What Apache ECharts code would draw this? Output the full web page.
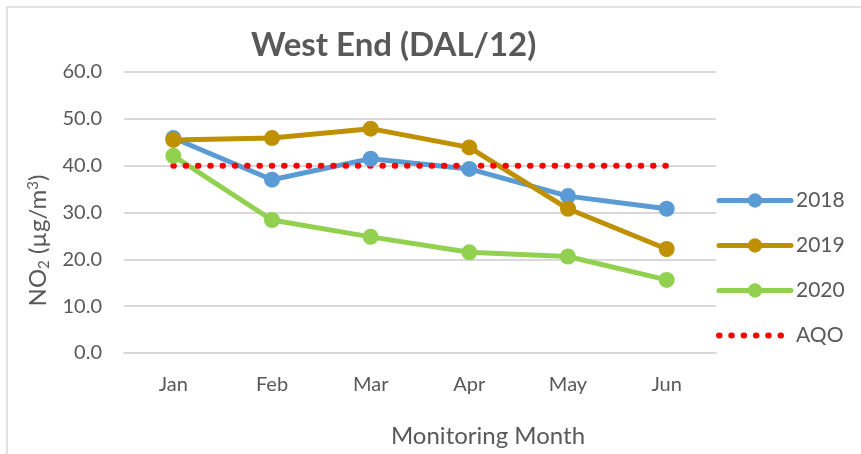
<!DOCTYPE html>
<html>
<head>
<meta charset="utf-8">
<script src="https://cdn.jsdelivr.net/npm/echarts@6/dist/echarts.min.js"></script>
<style>
  html, body { margin: 0; padding: 0; background: #fff; }
  #chart { width: 861px; height: 454px; }
</style>
</head>
<body>
<div id="chart"></div>
<script>
// monitoring months
var months = ['Jan', 'Feb', 'Mar', 'Apr', 'May', 'Jun'];
// NO2 monthly means
var no2_2018 = [45.9, 37.0, 41.5, 39.3, 33.5, 30.8];
var no2_2019 = [45.5, 45.9, 47.9, 43.9, 30.8, 22.2];
var no2_2020 = [42.1, 28.4, 24.8, 21.5, 20.6, 15.6];
// air quality objective
var aqo = [40, 40, 40, 40, 40, 40];

var textColor = '#595959';
var gridColor = '#D9D9D9';
var font = 'Lato';
var aqoDash = [0.5, 11.8];

function yearSeries(name, data, color) {
  return {
    name: name,
    type: 'line',
    data: data,
    symbol: 'circle',
    symbolSize: 16,
    lineStyle: {width: 5, color: color, cap: 'round', join: 'round'},
    itemStyle: {color: color},
    emphasis: {disabled: true}
  };
}

var myChart = echarts.init(document.getElementById('chart'));
myChart.setOption({
  animation: false,
  title: {
    text: 'West End (DAL/12)',
    left: 246,
    top: 24,
    textStyle: {fontFamily: font, fontWeight: 'bold', fontSize: 33, color: textColor}
  },
  graphic: [{
    type: 'rect',
    shape: {x: 7, y: 7, width: 1000, height: 600},
    style: {fill: 'none', stroke: gridColor, lineWidth: 1.5},
    silent: true
  }],
  grid: {left: 124, right: 145, top: 72, bottom: 101},
  legend: {
    orient: 'vertical',
    left: 716,
    top: 190,
    padding: 0,
    itemWidth: 72,
    itemHeight: 18,
    itemGap: 24,
    textStyle: {fontFamily: font, fontSize: 21, color: textColor},
    data: [
      {name: '2018', lineStyle: {width: 5, cap: 'round'}},
      {name: '2019', lineStyle: {width: 5, cap: 'round'}},
      {name: '2020', lineStyle: {width: 5, cap: 'round'}},
      {name: 'AQO', itemStyle: {opacity: 0}, lineStyle: {width: 6, type: aqoDash, cap: 'round'}}
    ]
  },
  xAxis: {
    type: 'category',
    data: months,
    axisTick: {show: false},
    axisLine: {lineStyle: {color: gridColor, width: 2}},
    axisLabel: {fontFamily: font, fontSize: 20, color: textColor, margin: 22},
    name: 'Monitoring Month',
    nameLocation: 'middle',
    nameGap: 71,
    nameTextStyle: {fontFamily: font, fontSize: 24, color: textColor, padding: [0, 0, 0, 136]}
  },
  yAxis: {
    type: 'value',
    min: 0,
    max: 60,
    interval: 10,
    axisLine: {show: false},
    axisTick: {show: false},
    splitLine: {lineStyle: {color: gridColor, width: 2}},
    axisLabel: {
      fontFamily: font, fontSize: 20, color: textColor, margin: 22,
      formatter: function (v) { return v.toFixed(1); }
    },
    name: 'NO{sub|2} (µg/m{sup|3})',
    nameLocation: 'middle',
    nameRotate: 90,
    nameGap: 72,
    nameTextStyle: {
      fontFamily: font, fontSize: 24, color: textColor, padding: [0, 56, 0, 0],
      rich: {
        sub: {fontFamily: font, fontSize: 15, color: textColor, verticalAlign: 'bottom', padding: [11, 0, 0, 0]},
        sup: {fontFamily: font, fontSize: 15, color: textColor, verticalAlign: 'top', padding: [0, 0, 11, 0]}
      }
    }
  },
  series: [
    yearSeries('2018', no2_2018, '#5B9BD5'),
    yearSeries('2019', no2_2019, '#BF9000'),
    yearSeries('2020', no2_2020, '#92D050'),
    {
      name: 'AQO',
      type: 'line',
      data: aqo,
      symbol: 'none',
      itemStyle: {color: '#FF0000'},
      lineStyle: {color: '#FF0000', width: 6, type: aqoDash, cap: 'round'},
      emphasis: {disabled: true}
    }
  ]
});
</script>
</body>
</html>
